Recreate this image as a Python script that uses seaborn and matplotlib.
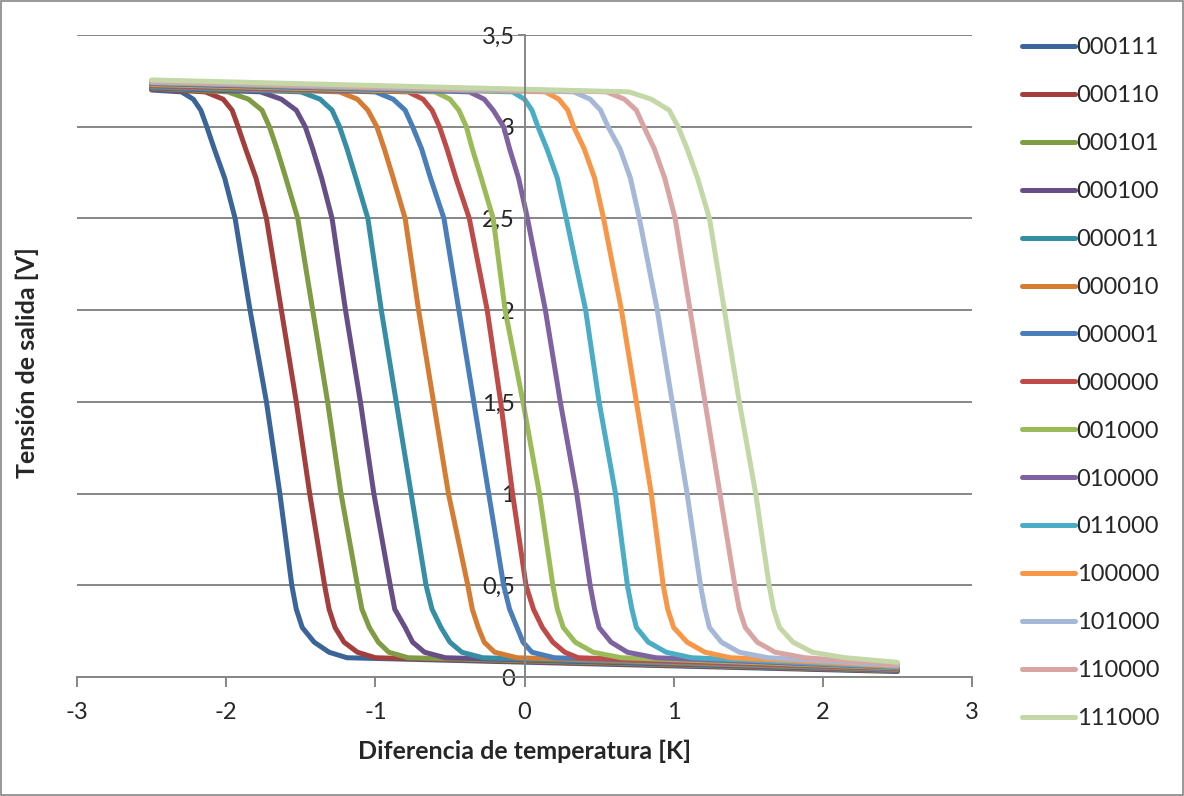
import pandas as pd
import seaborn as sns
import matplotlib.pyplot as plt
from matplotlib.patches import Rectangle

# series names (legend order) and colours
series = ["000111", "000110", "000101", "000100", "000011", "000010", "000001",
          "000000", "001000", "010000", "011000", "100000", "101000", "110000", "111000"]
colors = ["#3B6598", "#A23F3C", "#7F9B43", "#664F86", "#368EA4", "#D47C33", "#4A7EBB",
          "#BE4B48", "#9BBB59", "#7F63A1", "#4BACC6", "#F79646", "#A5B8D7", "#D9A5A4", "#C3D7A7"]

# each curve: starts at x=-2.5, crosses these voltage levels, ends at x=2.5
x_start = -2.5
x_end = 2.5
y_levels = [3.19, 3.15, 3.09, 3.0, 2.88, 2.72, 2.5, 2.0, 1.5, 1.0, 0.5,
            0.37, 0.27, 0.19, 0.135, 0.105]
y_start = [3.200, 3.205, 3.210, 3.212, 3.215, 3.220, 3.222, 3.225, 3.230, 3.235,
           3.240, 3.242, 3.245, 3.250, 3.255]
y_end = [0.030, 0.033, 0.035, 0.037, 0.040, 0.042, 0.045, 0.047, 0.050, 0.053,
         0.056, 0.060, 0.064, 0.070, 0.080]

# x where each curve crosses y_levels
x_000111 = [-2.30, -2.22, -2.17, -2.13, -2.08, -2.01, -1.94, -1.84, -1.73, -1.64, -1.56, -1.53, -1.49, -1.41, -1.31, -1.19]
x_000110 = [-2.14, -2.02, -1.96, -1.92, -1.87, -1.80, -1.73, -1.63, -1.53, -1.44, -1.34, -1.31, -1.27, -1.21, -1.12, -1.00]
x_000101 = [-1.99, -1.85, -1.76, -1.71, -1.66, -1.60, -1.52, -1.42, -1.32, -1.23, -1.12, -1.09, -1.04, -0.98, -0.91, -0.78]
x_000100 = [-1.77, -1.63, -1.53, -1.47, -1.42, -1.36, -1.29, -1.20, -1.10, -1.01, -0.90, -0.87, -0.80, -0.75, -0.67, -0.53]
x_000011 = [-1.50, -1.37, -1.29, -1.24, -1.19, -1.13, -1.05, -0.96, -0.86, -0.76, -0.66, -0.62, -0.56, -0.50, -0.42, -0.28]
x_000010 = [-1.24, -1.12, -1.05, -0.99, -0.94, -0.88, -0.80, -0.71, -0.61, -0.51, -0.38, -0.35, -0.31, -0.27, -0.20, -0.05]
x_000001 = [-1.00, -0.88, -0.80, -0.75, -0.69, -0.63, -0.54, -0.44, -0.34, -0.24, -0.14, -0.10, -0.05, -0.01, 0.05, 0.20]
x_000000 = [-0.78, -0.68, -0.62, -0.57, -0.52, -0.46, -0.37, -0.25, -0.16, -0.08, 0.01, 0.06, 0.12, 0.19, 0.27, 0.36]
x_001000 = [-0.60, -0.50, -0.44, -0.39, -0.35, -0.29, -0.21, -0.13, -0.01, 0.10, 0.19, 0.22, 0.26, 0.34, 0.46, 0.65]
x_010000 = [-0.37, -0.27, -0.21, -0.14, -0.10, -0.04, 0.02, 0.14, 0.24, 0.35, 0.44, 0.47, 0.50, 0.58, 0.69, 0.88]
x_011000 = [-0.08, 0.00, 0.05, 0.09, 0.15, 0.22, 0.28, 0.41, 0.50, 0.61, 0.69, 0.72, 0.75, 0.83, 0.95, 1.12]
x_100000 = [0.14, 0.23, 0.29, 0.33, 0.40, 0.47, 0.53, 0.65, 0.75, 0.85, 0.93, 0.96, 1.00, 1.09, 1.21, 1.38]
x_101000 = [0.33, 0.44, 0.51, 0.56, 0.64, 0.71, 0.77, 0.89, 0.99, 1.09, 1.18, 1.21, 1.24, 1.32, 1.44, 1.63]
x_110000 = [0.55, 0.67, 0.75, 0.80, 0.87, 0.94, 1.01, 1.11, 1.21, 1.31, 1.41, 1.44, 1.48, 1.56, 1.68, 1.88]
x_111000 = [0.70, 0.85, 0.97, 1.03, 1.09, 1.16, 1.24, 1.34, 1.44, 1.55, 1.64, 1.67, 1.71, 1.80, 1.93, 2.15]

crossings = [x_000111, x_000110, x_000101, x_000100, x_000011, x_000010, x_000001,
             x_000000, x_001000, x_010000, x_011000, x_100000, x_101000, x_110000, x_111000]

rows = []
for i, name in enumerate(series):
    rows.append((name, x_start, y_start[i]))
    for xv, yv in zip(crossings[i], y_levels):
        rows.append((name, xv, yv))
    rows.append((name, x_end, y_end[i]))
df = pd.DataFrame(rows, columns=["serie", "x", "y"])

sns.set_style("white")
plt.rcParams["font.family"] = ["Lato", "DejaVu Sans"]

fig = plt.figure(figsize=(11.84, 7.96), dpi=100)
ax = fig.add_axes([77 / 1184, 1 - 677 / 796, 895 / 1184, 642 / 796])

sns.lineplot(data=df, x="x", y="y", hue="serie", hue_order=series, palette=colors,
             estimator=None, sort=False, lw=3.6, solid_capstyle="round",
             solid_joinstyle="round", ax=ax)

grey = "#868686"
ax.set_xlim(-3, 3)
ax.set_ylim(0, 3.5)
xt = [-3, -2, -1, 0, 1, 2, 3]
ax.set_xticks(xt)
ax.set_xticklabels([str(v) for v in xt])
yt = [0, 0.5, 1, 1.5, 2, 2.5, 3, 3.5]
ax.set_yticks(yt)
ax.set_yticklabels([("%g" % v).replace(".", ",") for v in yt])

ax.set_axisbelow(True)
ax.yaxis.grid(True, color=grey, lw=1.4)
ax.xaxis.grid(False)
for s in ["top", "right"]:
    ax.spines[s].set_visible(False)
ax.spines["left"].set_position(("data", 0))
ax.spines["left"].set_color(grey)
ax.spines["bottom"].set_color(grey)
ax.spines["left"].set_linewidth(1.4)
ax.spines["bottom"].set_linewidth(1.4)
ax.tick_params(axis="x", direction="out", length=7, width=1.4, color=grey,
               labelsize=17, pad=11, bottom=True)
ax.tick_params(axis="y", direction="out", length=5, width=1.4, color=grey,
               labelsize=17, pad=2, left=True)

ax.set_xlabel("Diferencia de temperatura [K]", fontsize=18, fontweight="bold")
ax.set_ylabel("Tensión de salida [V]", fontsize=18, fontweight="bold")
ax.xaxis.set_label_coords(0.5, -0.097)
ax.yaxis.set_label_coords(-0.042, 0.49)

h, l = ax.get_legend_handles_labels()
ax.legend(h, l, loc="upper left", bbox_to_anchor=(1001 / 1184, 1 - 16 / 796),
          bbox_transform=fig.transFigure, frameon=False, fontsize=17,
          handlelength=2.25, handletextpad=0.05, labelspacing=1.14)

fig.patches.append(Rectangle((0.001, 0.001), 0.998, 0.998, transform=fig.transFigure,
                             fill=False, edgecolor=grey, lw=1.2))

fig.savefig("out.png", dpi=100)
